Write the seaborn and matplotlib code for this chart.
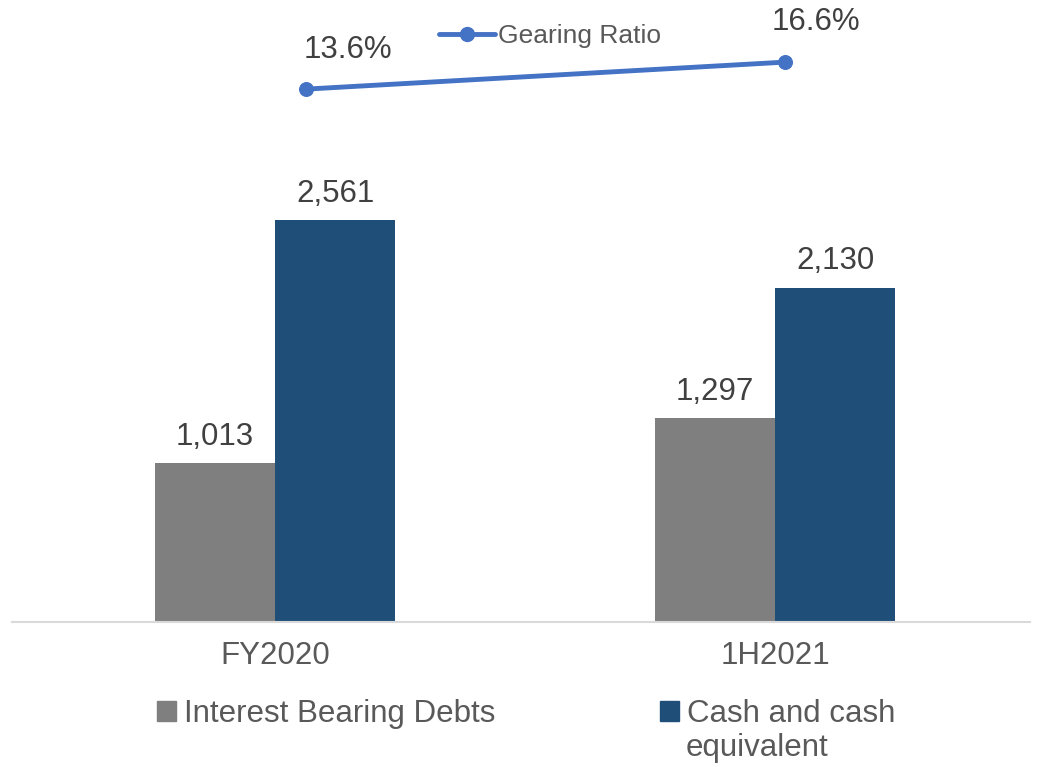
import numpy as np
import pandas as pd
import matplotlib
matplotlib.use("Agg")
import matplotlib.pyplot as plt
import seaborn as sns
from matplotlib.patches import Patch
from matplotlib.lines import Line2D

# data
periods = ["FY2020", "1H2021"]
debts = [1013, 1297]
cash = [2561, 2130]
gearing = [13.6, 16.6]
series_names = ["Interest Bearing Debts", "Cash and cash\nequivalent"]

GRAY = "#7F7F7F"
BLUE = "#1F4E79"
LINE_BLUE = "#4472C4"
TEXT_DARK = "#404040"
TEXT_MID = "#595959"

sns.set_theme(style="white")
plt.rcParams["font.family"] = ["Liberation Sans", "DejaVu Sans"]

df = pd.DataFrame({
    "period": periods * 2,
    "series": [series_names[0]] * 2 + [series_names[1]] * 2,
    "value": debts + cash,
})

fig = plt.figure(figsize=(10.38, 7.67), dpi=100)
W, H = 1038, 767
rect = [12 / W, (H - 622) / H, 1018 / W, 622 / H]
ax = fig.add_axes(rect)

sns.barplot(data=df, x="period", y="value", hue="series", order=periods,
            hue_order=series_names, palette=[GRAY, BLUE], width=0.48,
            saturation=1, linewidth=0, ax=ax, legend=False)
ax.set_xlim(-0.526, 1.51)
ax.set_ylim(0, 3962)
ax.set_xlabel("")
ax.set_ylabel("")
ax.set_yticks([])
for s in ["top", "left", "right"]:
    ax.spines[s].set_visible(False)
ax.spines["bottom"].set_color("#D9D9D9")
ax.spines["bottom"].set_linewidth(1.5)
ax.tick_params(axis="x", length=0, pad=14, labelsize=22.5, labelcolor=TEXT_MID)

for cont in ax.containers:
    ax.bar_label(cont, labels=[f"{v:,.0f}" for v in cont.datavalues],
                 padding=8, fontsize=22.5, color=TEXT_DARK)

# gearing ratio on its own overlay axes
lax = fig.add_axes(rect, facecolor="none")
lx = np.arange(len(periods))
sns.lineplot(x=lx, y=gearing, ax=lax, color=LINE_BLUE, linewidth=3.5,
             marker="o", markersize=10, markeredgecolor=LINE_BLUE, legend=False)
lax.set_xlim(-0.614, 1.511)
lax.set_ylim(-45.6, 23.5)
lax.axis("off")
offsets = [(30, 28), (22, 29)]
for xi, g, off in zip(lx, gearing, offsets):
    lax.annotate(f"{g:.1f}%", (xi, g), xytext=off, textcoords="offset points",
                 ha="center", va="center", fontsize=22.5, color=TEXT_DARK)

fig.legend(handles=[Line2D([0], [0], color=LINE_BLUE, lw=3.5, marker="o",
                           markersize=10)],
           labels=["Gearing Ratio"], loc="center", bbox_to_anchor=(550 / W, 1 - 36 / H),
           frameon=False, fontsize=19, labelcolor=TEXT_MID, handlelength=2.1,
           handletextpad=0.1, borderpad=0)

# bottom legends
fig.legend(handles=[Patch(color=GRAY)], labels=["Interest Bearing Debts"],
           loc="center left", bbox_to_anchor=(157 / W, 1 - 714 / H), frameon=False,
           fontsize=22.5, labelcolor=TEXT_MID, handlelength=0.6, handleheight=0.6,
           handletextpad=0.25, borderpad=0, borderaxespad=0)
fig.legend(handles=[Patch(color=BLUE)], labels=["Cash and cash"],
           loc="center left", bbox_to_anchor=(660 / W, 1 - 714 / H), frameon=False,
           fontsize=22.5, labelcolor=TEXT_MID, handlelength=0.6, handleheight=0.6,
           handletextpad=0.25, borderpad=0, borderaxespad=0)
fig.text(686 / W, 1 - 748 / H, "equivalent", ha="left", va="center",
         fontsize=22.5, color=TEXT_MID)

fig.savefig("out.png", dpi=100)
